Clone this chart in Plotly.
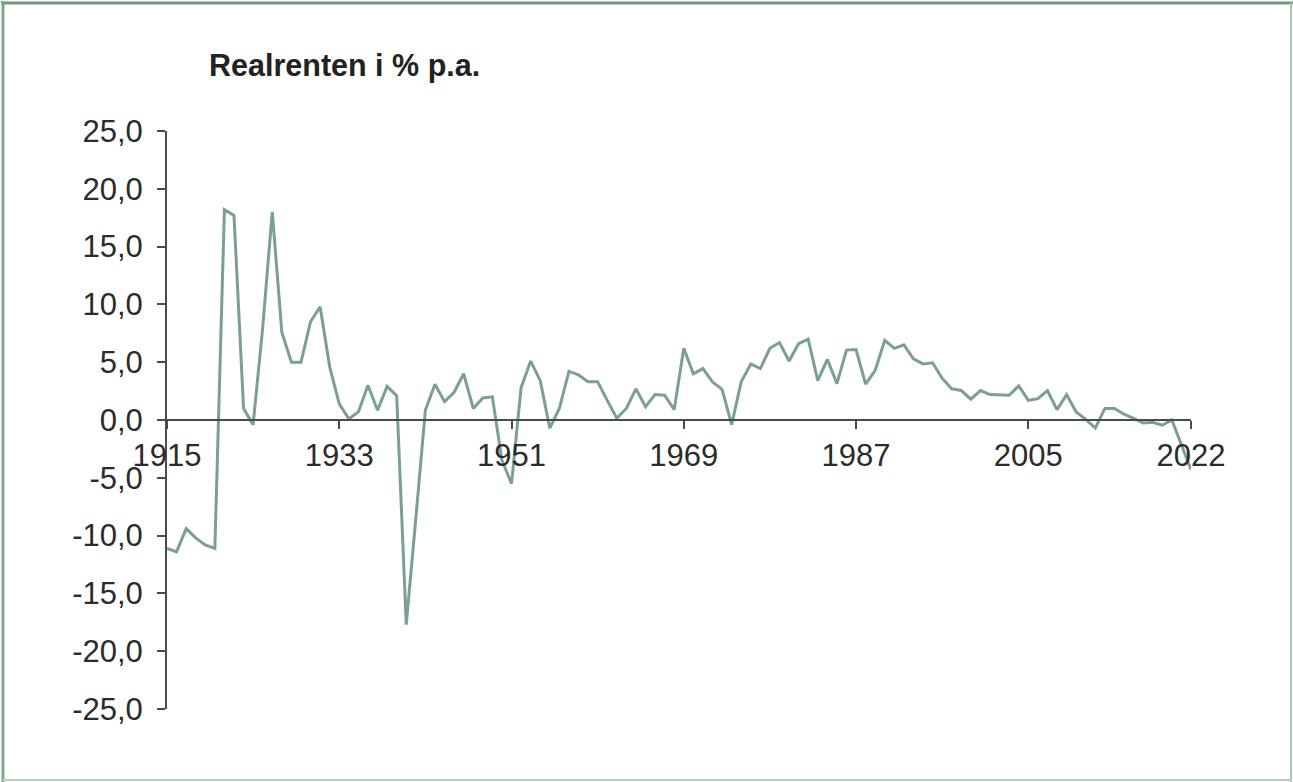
import plotly.graph_objects as go

years = list(range(1915, 2023))
real_rate = [
    -11.1, -11.4, -9.4, -10.2, -10.8, -11.1, 18.2, 17.7, 1.0, -0.4,
    8.0, 18.0, 7.6, 5.0, 5.0, 8.5, 9.8, 4.6, 1.4, 0.1,
    0.7, 3.0, 0.85, 2.9, 2.1, -17.7, -8.5, 0.85, 3.1, 1.6,
    2.4, 4.0, 1.0, 1.9, 2.0, -3.5, -5.5, 2.8, 5.1, 3.4,
    -0.7, 1.0, 4.2, 3.9, 3.3, 3.3, 1.7, 0.15, 1.0, 2.7,
    1.15, 2.2, 2.15, 0.9, 6.2, 4.0, 4.45, 3.3, 2.65, -0.4,
    3.3, 4.85, 4.45, 6.2, 6.7, 5.1, 6.6, 7.0, 3.4, 5.25,
    3.15, 6.05, 6.1, 3.1, 4.3, 6.9, 6.2, 6.5, 5.3, 4.85,
    4.95, 3.6, 2.7, 2.55, 1.8, 2.55, 2.2, 2.2, 2.15, 2.95,
    1.7, 1.85, 2.55, 0.9, 2.2, 0.7, 0.05, -0.7, 1.0, 1.0,
    0.5, 0.15, -0.25, -0.2, -0.45, 0.0, -2.1, -4.3,
]
x_tick_vals = [1915, 1933, 1951, 1969, 1987, 2005, 2022]
x_tick_text = ["1915", "1933", "1951", "1969", "1987", "2005", "2022"]
y_tick_vals = [25, 20, 15, 10, 5, 0, -5, -10, -15, -20, -25]
y_tick_text = ["25,0", "20,0", "15,0", "10,0", "5,0", "0,0", "-5,0",
               "-10,0", "-15,0", "-20,0", "-25,0"]
title_text = "Realrenten i % p.a."

W, H = 1293, 782
ML, MR, MT, MB = 167, 102, 131, 73
PW, PH = W - ML - MR, H - MT - MB

def fx(px):
    return (px - ML) / PW

def fy(py):
    return (H - MB - py) / PH

FONT = "Liberation Sans, Arial, sans-serif"
AXC = "#4a4a4a"
TXT = "#2b2b2b"

fig = go.Figure()
fig.add_trace(go.Scatter(
    x=years, y=real_rate, mode="lines",
    line=dict(color="#7b9f94", width=3),
    showlegend=False, hoverinfo="x+y",
))

fig.update_layout(
    width=W, height=H,
    margin=dict(l=ML, r=MR, t=MT, b=MB, pad=0),
    paper_bgcolor="white", plot_bgcolor="white",
    font=dict(family=FONT, size=31, color=TXT),
    showlegend=False,
    xaxis=dict(
        range=[1915, 2022], anchor="free", position=0.5,
        showline=True, linecolor=AXC, linewidth=2,
        ticks="outside", ticklen=8, tickwidth=2, tickcolor=AXC,
        tickvals=x_tick_vals, ticktext=x_tick_text,
        showgrid=False, zeroline=False,
        tickfont=dict(family=FONT, size=31, color=TXT),
    ),
    yaxis=dict(
        range=[-25, 25],
        showline=True, linecolor=AXC, linewidth=2,
        ticks="outside", ticklen=8, tickwidth=2, tickcolor=AXC,
        tickvals=y_tick_vals, ticktext=y_tick_text,
        showgrid=False, zeroline=False,
        ticklabelstandoff=8,
        tickfont=dict(family=FONT, size=31, color=TXT),
    ),
    annotations=[dict(
        text="<b>" + title_text + "</b>",
        xref="paper", yref="paper",
        x=fx(207), y=fy(66), xanchor="left", yanchor="middle",
        showarrow=False,
        font=dict(family=FONT, size=30.5, color="#222222"),
    )],
    shapes=[
        dict(type="line", xref="paper", yref="paper",
             x0=fx(1), x1=fx(1293), y0=fy(3), y1=fy(3),
             line=dict(color="#6f9a7e", width=3)),
        dict(type="line", xref="paper", yref="paper",
             x0=fx(3), x1=fx(3), y0=fy(1), y1=fy(782),
             line=dict(color="#7fa98d", width=3)),
        dict(type="line", xref="paper", yref="paper",
             x0=fx(1291), x1=fx(1291), y0=fy(3), y1=fy(782),
             line=dict(color="#a9c6b3", width=2)),
        dict(type="line", xref="paper", yref="paper",
             x0=fx(3), x1=fx(1291), y0=fy(780), y1=fy(780),
             line=dict(color="#b5cebe", width=2)),
    ],
)

fig.write_html(
    "out.html",
    config={"displayModeBar": False},
    post_script="document.body.style.margin='0';document.body.style.overflow='hidden';",
)
